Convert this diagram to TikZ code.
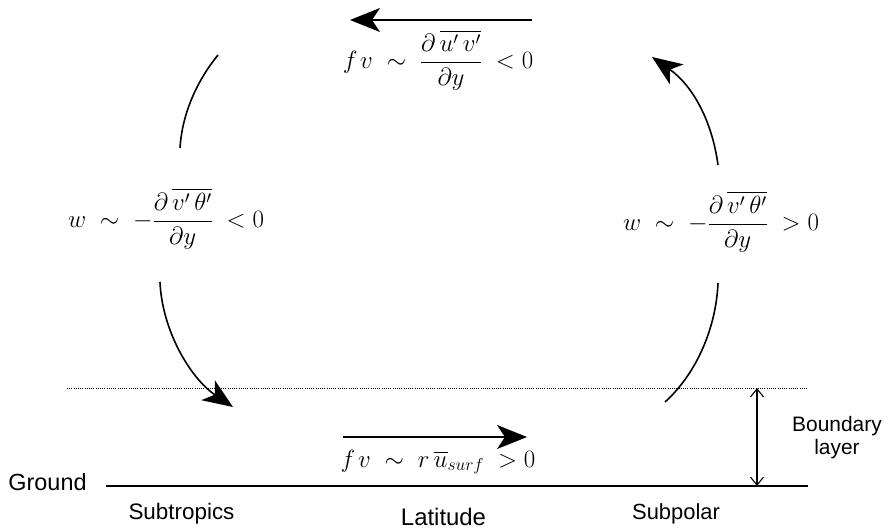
\RequirePackage{fix-cm}
\documentclass[tikz,border=0pt]{standalone}
\usepackage{amsmath}
\usepackage{fontspec}
\setmainfont{Liberation Sans}
\usetikzlibrary{arrows.meta}
\tikzset{
  flow/.style={line width=1.6bp, -{Stealth[length=30bp,width=24bp,inset=8bp]}},
  plain/.style={line width=1.6bp},
  eqn/.style={inner sep=0pt, font=\fontsize{25}{29}\selectfont},
  lbl/.style={inner sep=0pt, align=center},
}
\newcommand{\sep}{\mkern5mu}
\begin{document}
\begin{tikzpicture}[x=1bp,y=-1bp]
\useasboundingbox (0,0) rectangle (888,529);
% coordinates
\coordinate (ta) at (532,20); \coordinate (tb) at (350,20);
\coordinate (ba) at (343,437); \coordinate (bb) at (527,437);
\coordinate (lu1) at (218,55); \coordinate (lu2) at (180,148);
\coordinate (ll1) at (160,282); \coordinate (ll2) at (233,407);
\coordinate (rl1) at (665,402); \coordinate (rl2) at (718,283);
\coordinate (ru1) at (718,165); \coordinate (ru2) at (652,57);
\coordinate (d1) at (67,388); \coordinate (d2) at (808,388);
\coordinate (g1) at (106,486); \coordinate (g2) at (808,486);
\coordinate (v1) at (757,388); \coordinate (v2) at (757,486);
% labels
\node[eqn] (top) at (438,60) {$f\mkern2mu v\sep\sim\sep\dfrac{\partial\,\overline{u'\,v'}}{\partial y}\sep<0$};
\node[eqn] (left) at (166,219) {$w\sep\sim\sep-\dfrac{\partial\,\overline{v'\,\theta'}}{\partial y}\sep<0$};
\node[eqn] (right) at (721,222) {$w\sep\sim\sep-\dfrac{\partial\,\overline{v'\,\theta'}}{\partial y}\sep>0$};
\node[eqn] (bot) at (438,462) {$f\mkern2mu v\sep\sim\sep r\,\overline{u}_{surf}\sep>0$};
\node[lbl, font=\fontsize{23.5}{26}\selectfont] (ground) at (47.5,482) {Ground};
\node[lbl, font=\fontsize{22.5}{25}\selectfont] (subt) at (181.5,514) {Subtropics};
\node[lbl, font=\fontsize{24}{26}\selectfont] (lat) at (443.5,517) {Latitude};
\node[lbl, font=\fontsize{22}{25}\selectfont] (subp) at (676,514) {Subpolar};
\node[lbl, font=\fontsize{21}{23}\selectfont] (bl) at (837,438) {Boundary\\layer};
% lines
\draw[flow] (ta) -- (tb);
\draw[flow] (ba) -- (bb);
\draw[plain] (lu1) .. controls (196,82) and (182,115) .. (lu2);
\draw[flow] (ll1) .. controls (162,330) and (190,378) .. (ll2);
\draw[plain] (rl1) .. controls (695,375) and (716,330) .. (rl2);
\draw[flow] (ru1) .. controls (712,120) and (692,85) .. (ru2);
\draw[line width=1bp, dash pattern=on 1bp off 1.2bp] (d1) -- (d2);
\draw[line width=1.6bp] (g1) -- (g2);
\draw[line width=1.1bp, {Straight Barb[length=8bp,width=13bp]}-{Straight Barb[length=8bp,width=13bp]}] (v1) -- (v2);
\end{tikzpicture}
\end{document}
